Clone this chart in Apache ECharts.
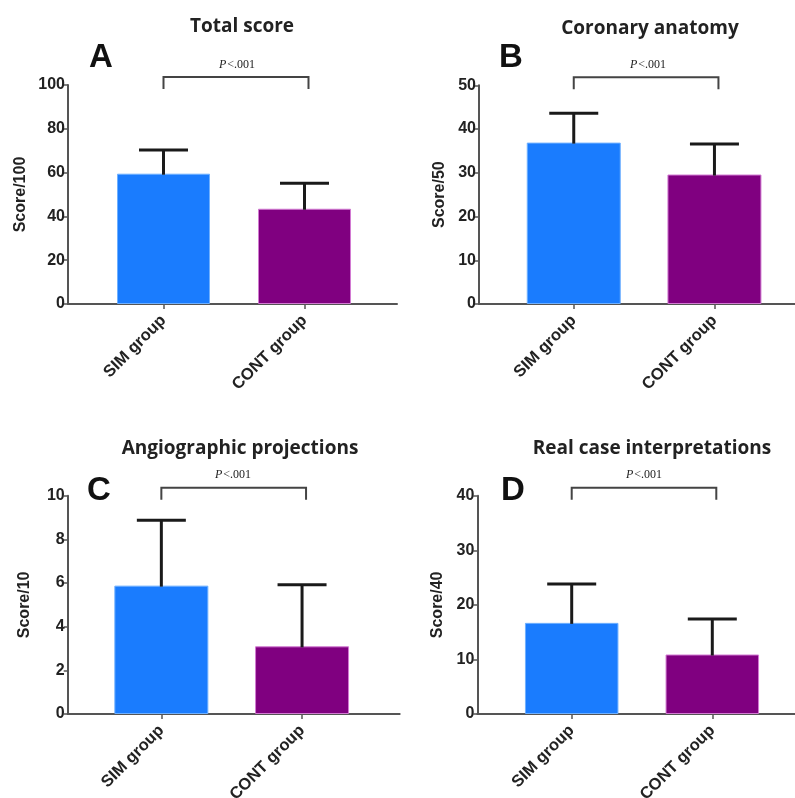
<!DOCTYPE html>
<html>
<head>
<meta charset="utf-8">
<script src="https://cdn.jsdelivr.net/npm/echarts@6/dist/echarts.min.js"></script>
<style>html,body{margin:0;padding:0;background:#fff;}#c{width:795px;height:798px;}</style>
</head>
<body>
<div id="c"></div>
<script>
// ---- data ----
var categories = ['SIM group', 'CONT group'];
var panelTitles = ['Total score', 'Coronary anatomy', 'Angiographic projections', 'Real case interpretations'];
var panelLetters = ['A', 'B', 'C', 'D'];
var yNames = ['Score/100', 'Score/50', 'Score/10', 'Score/40'];
var yMax = [100, 50, 10, 40];
var yInterval = [20, 10, 2, 10];
var meanA = [59.5, 43.5];
var sdTopA = [70.3, 55.1];
var meanB = [36.9, 29.6];
var sdTopB = [43.6, 36.6];
var meanC = [5.88, 3.10];
var sdTopC = [8.87, 5.92];
var meanD = [16.7, 10.9];
var sdTopD = [23.8, 17.4];
var pText = 'P<.001';

var means = [meanA, meanB, meanC, meanD];
var sdTops = [sdTopA, sdTopB, sdTopC, sdTopD];

// ---- layout (pixels) ----
var layout = [
  {ol: 68, ow: 329, top: 85, h: 219, il: 93, iw: 282, bw: 93, gap: 39, tx: 237, ty: 12, lx: 96, ly: 36, px: 232, py: 54},
  {ol: 479, ow: 316, top: 85.3, h: 218.7, il: 503.4, iw: 281.4, bw: 94, gap: 31, tx: 645, ty: 14, lx: 506, ly: 36, px: 643, py: 54},
  {ol: 67.7, ow: 332, top: 495.7, h: 218.3, il: 91, iw: 281.4, bw: 94, gap: 35, tx: 235, ty: 434, lx: 94, ly: 469, px: 228, py: 464},
  {ol: 477.3, ow: 317.7, top: 495.7, h: 218.3, il: 501.4, iw: 281.2, bw: 93.5, gap: 32, tx: 647, ty: 434, lx: 508, ly: 469, px: 639, py: 464}
];

var barColors = ['#1a7cfe', '#800080'];
var barBorders = ['#6fb0ff', '#d27ad2'];
var axisColor = '#555';
var textColor = '#222';
var sansBold = 'Arial, "Liberation Sans", sans-serif';

var grid = [], xAxis = [], yAxis = [], series = [], title = [];

layout.forEach(function (L, p) {
  var g0 = p * 2, g1 = p * 2 + 1;
  grid.push({left: L.ol, top: L.top, width: L.ow, height: L.h, containLabel: false, outerBoundsMode: 'none'});
  grid.push({left: L.il, top: L.top, width: L.iw, height: L.h, containLabel: false, outerBoundsMode: 'none'});

  xAxis.push({
    type: 'value', gridIndex: g0, min: 0, max: 1,
    axisLine: {show: true, onZero: false, lineStyle: {color: axisColor, width: 2}},
    axisTick: {show: false}, axisLabel: {show: false}, splitLine: {show: false}
  });
  xAxis.push({
    type: 'category', gridIndex: g1, data: categories,
    axisLine: {show: false},
    axisTick: {show: true, alignWithLabel: true, length: 5, lineStyle: {color: axisColor, width: 1.5}},
    axisLabel: {rotate: 45, margin: 14, color: textColor, fontFamily: sansBold, fontWeight: 'bold', fontSize: 16.5}
  });

  yAxis.push({
    type: 'value', gridIndex: g0, min: 0, max: yMax[p], interval: yInterval[p],
    name: yNames[p], nameLocation: 'middle', nameGap: L.gap,
    nameTextStyle: {color: textColor, fontFamily: sansBold, fontWeight: 'bold', fontSize: 16},
    axisLine: {show: true, lineStyle: {color: axisColor, width: 2}},
    axisTick: {show: true, length: 4, lineStyle: {color: axisColor, width: 1.5}},
    axisLabel: {margin: 3, color: textColor, fontFamily: sansBold, fontWeight: 'bold', fontSize: 16},
    splitLine: {show: false}
  });
  yAxis.push({
    type: 'value', gridIndex: g1, min: 0, max: yMax[p], interval: yInterval[p], show: false
  });

  series.push({
    type: 'bar', xAxisIndex: g1, yAxisIndex: g1, barWidth: L.bw,
    data: means[p].map(function (v, i) {
      return {value: v, itemStyle: {color: barColors[i], borderColor: barBorders[i], borderWidth: 1}};
    }),
    z: 2
  });

  // error bars (mean to mean + SD)
  series.push({
    type: 'custom', xAxisIndex: g1, yAxisIndex: g1, z: 3,
    data: means[p].map(function (v, i) { return [i, v, sdTops[p][i]]; }),
    renderItem: function (params, api) {
      var a = api.coord([api.value(0), api.value(1)]);
      var b = api.coord([api.value(0), api.value(2)]);
      var cap = 24.5;
      var st = {stroke: '#1a1a1a', lineWidth: 3};
      return {type: 'group', children: [
        {type: 'line', shape: {x1: a[0], y1: a[1] + 1, x2: b[0], y2: b[1]}, style: st},
        {type: 'line', shape: {x1: b[0] - cap, y1: b[1], x2: b[0] + cap, y2: b[1]}, style: st}
      ]};
    }
  });

  // significance bracket
  (function (pmax) {
    series.push({
      type: 'custom', xAxisIndex: g1, yAxisIndex: g1, z: 3, clip: false,
      data: [[0, 1, pmax]],
      renderItem: function (params, api) {
        var l = api.coord([api.value(0), api.value(2)]);
        var r = api.coord([api.value(1), api.value(2)]);
        var yt = l[1] - 8, yb = l[1] + 4;
        return {type: 'polyline', shape: {points: [[l[0], yb], [l[0], yt], [r[0] + 4, yt], [r[0] + 4, yb]]},
          style: {stroke: '#444', lineWidth: 2, fill: null}};
      }
    });
  })(yMax[p]);

  title.push({
    text: panelTitles[p], left: L.tx, top: L.ty, textAlign: 'center',
    textStyle: {fontFamily: '"Open Sans", Lato, sans-serif', fontWeight: 'bold', fontSize: 19, color: '#222'}
  });
  title.push({
    text: panelLetters[p], left: L.lx, top: L.ly, textAlign: 'center',
    textStyle: {fontFamily: sansBold, fontWeight: 'bold', fontSize: 33, color: '#111'}
  });
  title.push({
    text: '{i|P}{n|' + pText.slice(1) + '}', left: L.px, top: L.py, textAlign: 'center',
    textStyle: {fontWeight: 'normal', rich: {
      i: {fontFamily: '"Liberation Serif", "DejaVu Serif", serif', fontStyle: 'italic', fontWeight: 'normal', fontSize: 12, color: '#222'},
      n: {fontFamily: '"Liberation Serif", "DejaVu Serif", serif', fontWeight: 'normal', fontSize: 12, color: '#222', padding: [0, 0, 0, 1]}
    }}
  });
});

var chart = echarts.init(document.getElementById('c'));
chart.setOption({animation: false, backgroundColor: '#fff', title: title, grid: grid, xAxis: xAxis, yAxis: yAxis, series: series});
</script>
</body>
</html>
